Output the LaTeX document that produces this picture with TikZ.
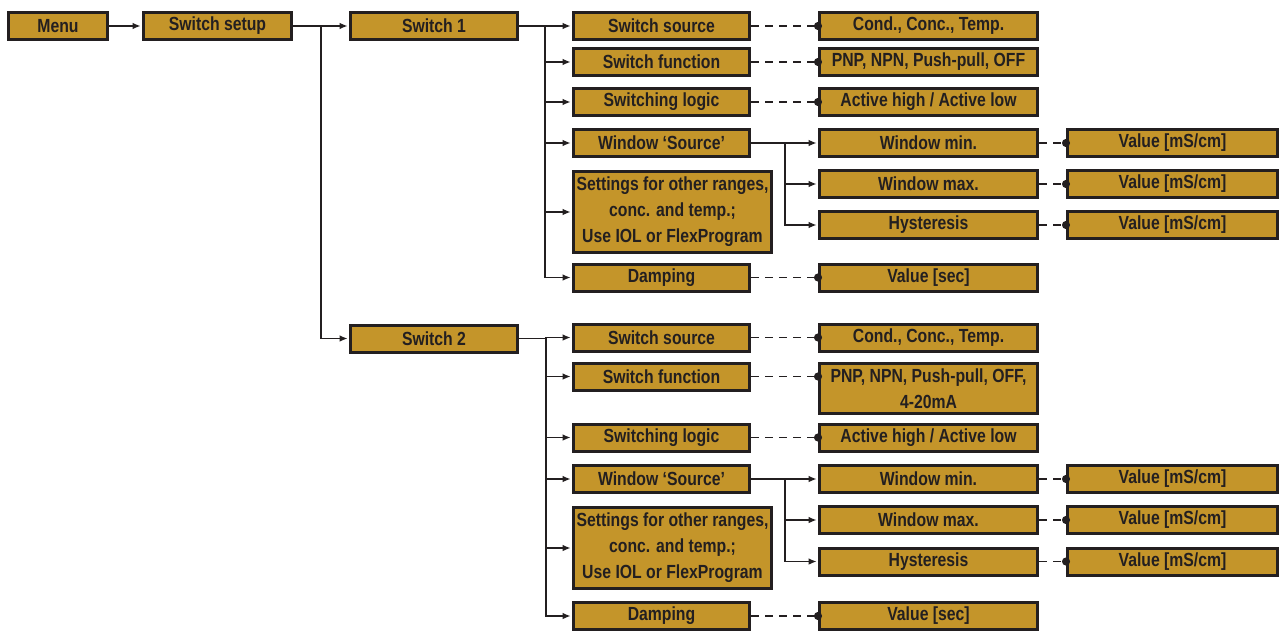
\documentclass[tikz,border=0pt]{standalone}
\usepackage{fontspec}
\setmainfont{Liberation Sans}[FakeStretch=0.83]
\usetikzlibrary{arrows.meta}
\definecolor{menufill}{RGB}{196,149,42}
\definecolor{menuline}{RGB}{35,31,32}

\begin{document}
\begin{tikzpicture}[
    x=0.75pt, y=-0.75pt, >={Latex[length=6pt,width=5pt]},
    every node/.style={draw=menuline, fill=menufill, line width=2.25pt, inner sep=0pt,
      text=menuline, align=center, minimum height=20.25pt,
      font=\bfseries\fontsize{14.25}{19.5}\selectfont},
    col/.style={minimum width=#1*0.75pt},
    link/.style={draw=menuline, line width=1.3pt},
    step arrow/.style={link, ->, shorten >=1pt},
    option/.style={link, dash pattern=on 6pt off 4.5pt, -{Circle[length=6pt]}, shorten >=-3pt}
  ]
    \useasboundingbox (0,0) rectangle (1281,631);

    % main path
    \node[col=99] (menu) at (58,26) {Menu};
    \node[col=148] (setup) at (217.5,26) {Switch setup};
    \node[col=167] (sw1) at (434,26) {Switch 1};
    \node[col=167] (sw2) at (434,338.5) {Switch 2};

    % switch 1
    \node[col=176] (src1) at (661.5,26) {Switch source};
    \node[col=176] (fun1) at (661.5,62) {Switch function};
    \node[col=176] (log1) at (661.5,102) {Switching logic};
    \node[col=176] (win1) at (661.5,143) {Window `Source'};
    \node[col=198, minimum height=60.75pt] (oth1) at (672.5,212) {Settings for other ranges,\\conc. and temp.;\\Use IOL or FlexProgram};
    \node[col=176] (dmp1) at (661.5,277.5) {Damping};

    \node[col=218] (vsrc1) at (928.5,26) {Cond., Conc., Temp.};
    \node[col=218] (vfun1) at (928.5,62) {PNP, NPN, Push-pull, OFF};
    \node[col=218] (vlog1) at (928.5,102) {Active high / Active low};
    \node[col=218] (min1) at (928.5,143) {Window min.};
    \node[col=218] (max1) at (928.5,184) {Window max.};
    \node[col=218] (hys1) at (928.5,225) {Hysteresis};
    \node[col=218] (vdmp1) at (928.5,277.5) {Value [sec]};

    \node[col=210] (vmin1) at (1172.5,143) {Value [mS/cm]};
    \node[col=210] (vmax1) at (1172.5,184) {Value [mS/cm]};
    \node[col=210] (vhys1) at (1172.5,225) {Value [mS/cm]};

    % switch 2
    \node[col=176] (src2) at (661.5,337.5) {Switch source};
    \node[col=176] (fun2) at (661.5,376.5) {Switch function};
    \node[col=176] (log2) at (661.5,437.5) {Switching logic};
    \node[col=176] (win2) at (661.5,479) {Window `Source'};
    \node[col=198, minimum height=60.75pt] (oth2) at (672.5,548) {Settings for other ranges,\\conc. and temp.;\\Use IOL or FlexProgram};
    \node[col=176] (dmp2) at (661.5,616) {Damping};

    \node[col=218] (vsrc2) at (928.5,337.5) {Cond., Conc., Temp.};
    \node[col=218, minimum height=37.5pt] (vfun2) at (928.5,388.5) {PNP, NPN, Push-pull, OFF,\\4-20mA};
    \node[col=218] (vlog2) at (928.5,437.5) {Active high / Active low};
    \node[col=218] (min2) at (928.5,479) {Window min.};
    \node[col=218] (max2) at (928.5,520) {Window max.};
    \node[col=218] (hys2) at (928.5,561.5) {Hysteresis};
    \node[col=218] (vdmp2) at (928.5,616) {Value [sec]};

    \node[col=210] (vmin2) at (1172.5,479) {Value [mS/cm]};
    \node[col=210] (vmax2) at (1172.5,520) {Value [mS/cm]};
    \node[col=210] (vhys2) at (1172.5,561.5) {Value [mS/cm]};

    % branch points
    \coordinate (b0) at (321,26);
    \coordinate (b1) at (545,26);
    \coordinate (b2) at (546,338.5);
    \coordinate (bw1) at (785,143);
    \coordinate (bw2) at (785,479);

    % connectors
    \draw[step arrow] (menu) -- (setup);
    \draw[step arrow] (setup) -- (sw1);
    \draw[step arrow] (b0) |- (sw2);
    \draw[link] (sw1) -- (b1);
    \draw[link] (sw2) -- (b2);
    \draw[link] (win1) -- (bw1);
    \draw[link] (win2) -- (bw2);
    \foreach \n in {src1,fun1,log1,win1,oth1,dmp1}
      \draw[step arrow] (b1) |- (\n);
    \foreach \n in {src2,fun2,log2,win2,oth2,dmp2}
      \draw[step arrow] (b2) |- (\n);
    \foreach \n in {min1,max1,hys1}
      \draw[step arrow] (bw1) |- (\n);
    \foreach \n in {min2,max2,hys2}
      \draw[step arrow] (bw2) |- (\n);

    \draw[option] (src1) -- (vsrc1);
    \draw[option] (fun1) -- (vfun1);
    \draw[option] (log1) -- (vlog1);
    \draw[option] (dmp1) -- (vdmp1);
    \draw[option] (min1) -- (vmin1);
    \draw[option] (max1) -- (vmax1);
    \draw[option] (hys1) -- (vhys1);
    \draw[option] (src2) -- (vsrc2);
    \draw[option] (fun2) -- (fun2 -| vfun2.west);
    \draw[option] (log2) -- (vlog2);
    \draw[option] (dmp2) -- (vdmp2);
    \draw[option] (min2) -- (vmin2);
    \draw[option] (max2) -- (vmax2);
    \draw[option] (hys2) -- (vhys2);
\end{tikzpicture}
\end{document}
